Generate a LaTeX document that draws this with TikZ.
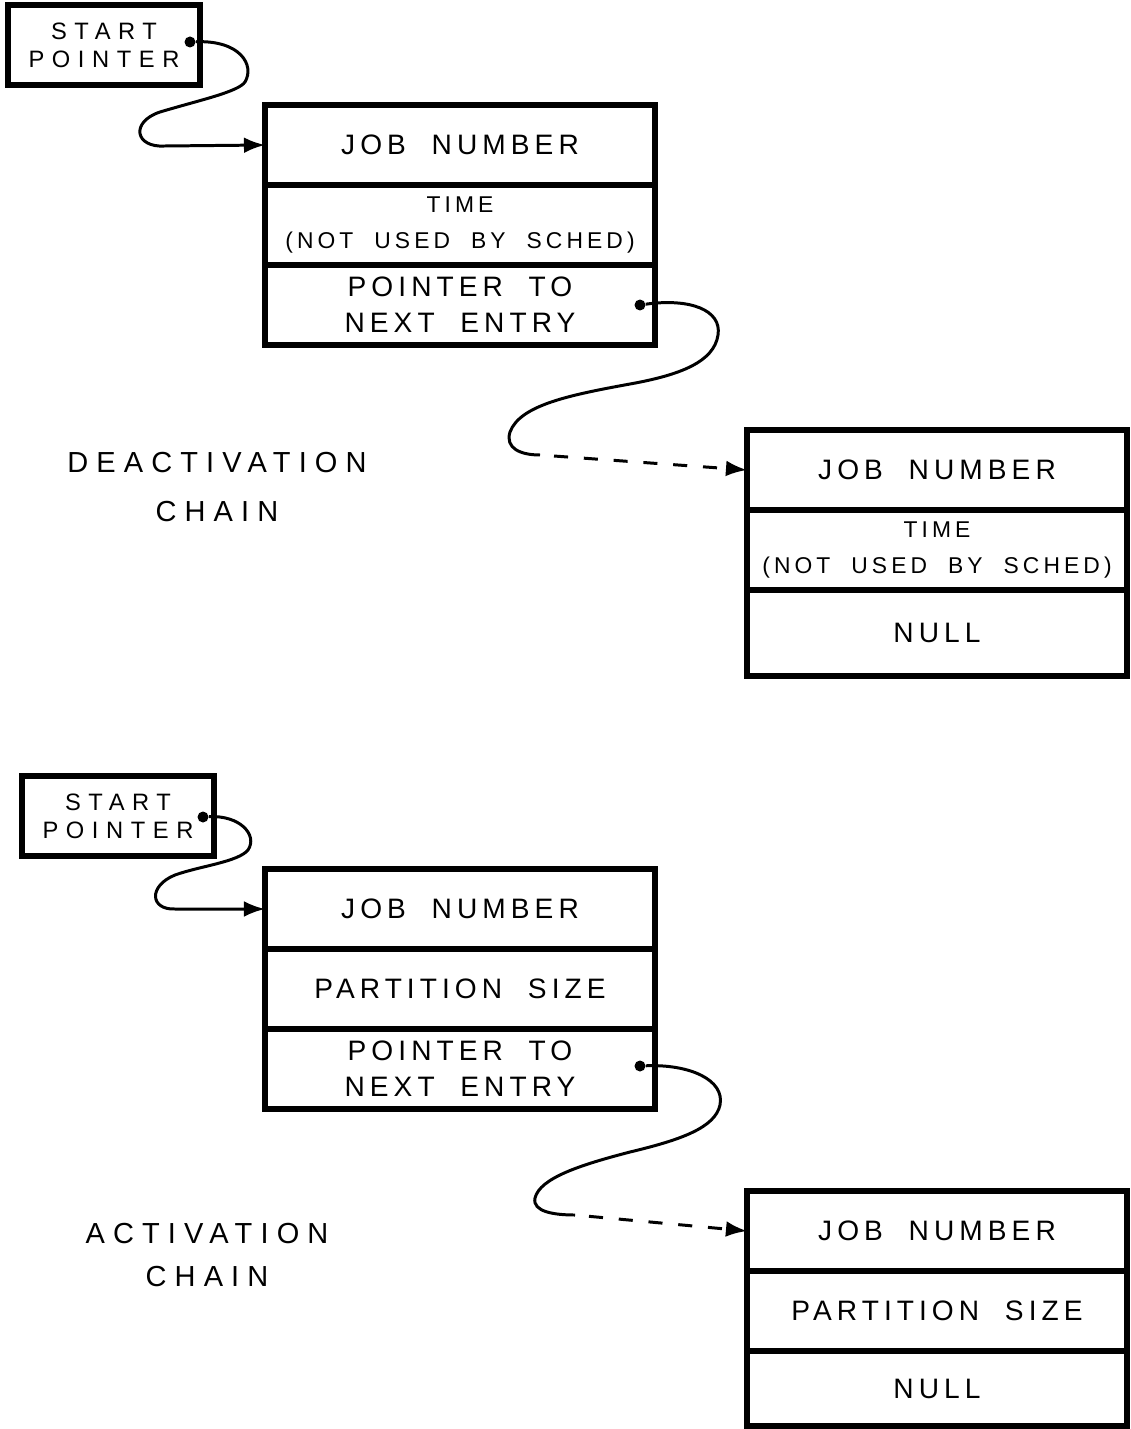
\documentclass[tikz,border=0pt]{standalone}
\usepackage{fontspec}
\setmainfont{Liberation Sans}[LetterSpace=18,WordSpace=2]
\usetikzlibrary{positioning,arrows.meta}
\tikzset{
  cell/.style={draw,line width=3.1pt,outer sep=0pt,inner xsep=2pt,minimum width=7.8cm,minimum height=1.6cm,align=center,font=\fontsize{16}{20.5}\selectfont},
  timetext/.style={font=\fontsize{13}{20.5}\selectfont},
  startbox/.style={cell,minimum width=3.84cm,font=\fontsize{13.5}{16}\selectfont\addfontfeature{LetterSpace=32}},
  dot/.style={circle,fill,inner sep=0pt,minimum size=0.22cm},
  wire/.style={line width=1.7pt},
  link/.style={wire,-{Latex[length=12pt,width=9pt]}},
  chainlabel/.style={align=center,font=\fontsize{16.5}{28}\selectfont\addfontfeature{LetterSpace=28}}
}
\begin{document}
\begin{tikzpicture}[x=0.02cm,y=-0.02cm]
\useasboundingbox (0,0) rectangle (1130,1429);
% deactivation chain
\node[startbox] (s1) at (104,45) {START\\POINTER};
\node[cell] (job1) at (460,145) {JOB NUMBER};
\node[cell,timetext,below=0pt of job1] (time1) {TIME\\(NOT USED BY SCHED)};
\node[cell,below=0pt of time1] (next1) {POINTER TO\\NEXT ENTRY};
\node[cell,minimum width=7.6cm] (job2) at (937,470) {JOB NUMBER};
\node[cell,timetext,minimum width=7.6cm,below=0pt of job2] (time2) {TIME\\(NOT USED BY SCHED)};
\node[cell,minimum width=7.6cm,minimum height=1.72cm,below=0pt of time2] (null2) {NULL};
\node[chainlabel] (l1) at (217,487) {DEACTIVATION\\CHAIN};
\node[dot] (d1) at (190,42) {};
\node[dot] (d2) at (640,305) {};
\coordinate (k1) at (540,455);
\draw[link] (d1) .. controls (240,40) and (255,65) .. (245,82) .. controls (238,92) and (200,100) .. (160,112)
  .. controls (130,122) and (135,148) .. (165,146) -- (job1.west);
\draw[wire] (d2) .. controls (690,298) and (722,310) .. (718,335) .. controls (714,362) and (680,375) .. (630,384)
  .. controls (570,395) and (520,405) .. (510,432) .. controls (505,448) and (520,455) .. (k1);
\draw[link,dash pattern=on 8pt off 9pt,dash phase=9pt] (k1) -- (job2.west);
% activation chain
\node[startbox] (s2) at (118,816) {START\\POINTER};
\node[cell] (job3) at (460,909) {JOB NUMBER};
\node[cell,below=0pt of job3] (part3) {PARTITION SIZE};
\node[cell,below=0pt of part3] (next3) {POINTER TO\\NEXT ENTRY};
\node[cell,minimum width=7.6cm] (job4) at (937,1231) {JOB NUMBER};
\node[cell,minimum width=7.6cm,below=0pt of job4] (part4) {PARTITION SIZE};
\node[cell,minimum width=7.6cm,minimum height=1.5cm,below=0pt of part4] (null4) {NULL};
\node[chainlabel,font=\fontsize{16.5}{25}\selectfont\addfontfeature{LetterSpace=28}] (l2) at (207,1255) {ACTIVATION\\CHAIN};
\node[dot] (d3) at (203,817) {};
\node[dot] (d4) at (640,1066) {};
\coordinate (k2) at (575,1215);
\draw[link] (d3) .. controls (240,815) and (258,835) .. (248,850) .. controls (238,862) and (200,866) .. (175,875)
  .. controls (148,886) and (150,910) .. (175,909) -- (job3.west);
\draw[wire] (d4) .. controls (690,1064) and (725,1080) .. (720,1105) .. controls (715,1128) and (680,1140) .. (630,1152)
  .. controls (580,1165) and (540,1178) .. (535,1198) .. controls (532,1212) and (555,1215) .. (k2);
\draw[link,dash pattern=on 8pt off 9pt,dash phase=9pt] (k2) -- (job4.west);
\end{tikzpicture}
\end{document}
